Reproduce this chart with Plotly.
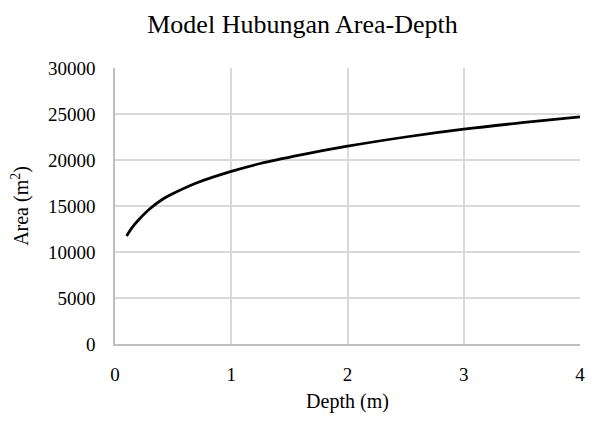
import plotly.graph_objects as go

depth = [0.1, 0.15, 0.2, 0.3, 0.4, 0.5, 0.7, 1.0, 1.25, 1.6, 2.0, 2.5, 3.0, 3.5, 4.0]
area = [11750, 12700, 13450, 14700, 15650, 16350, 17500, 18760, 19620, 20560, 21500, 22500, 23350, 24050, 24680]

x_ticks = [0, 1, 2, 3, 4]
y_ticks = [0, 5000, 10000, 15000, 20000, 25000, 30000]

FONT = "Liberation Serif, Times New Roman, serif"

fig = go.Figure()
fig.add_trace(go.Scatter(x=depth, y=area, mode="lines",
                         line=dict(color="black", width=2.75, shape="spline", smoothing=1.0),
                         showlegend=False))

fig.update_layout(
    width=589, height=413,
    paper_bgcolor="white", plot_bgcolor="white",
    margin=dict(l=106, r=17, t=60, b=72),
    font=dict(family=FONT, size=19, color="black"),
    title=dict(text="Model Hubungan Area-Depth", x=0.5, xanchor="center",
               y=0.962, yanchor="middle",
               font=dict(family=FONT, size=26, color="black")),
)
fig.update_xaxes(range=[0, 4], tickvals=x_ticks, ticktext=[str(v) for v in x_ticks],
                 showgrid=True, gridcolor="#d9d9d9", gridwidth=1.5,
                 showline=True, linecolor="#bfbfbf", linewidth=1.5, zeroline=False,
                 ticks="", ticklabelstandoff=12,
                 title=dict(text="Depth (m)", font=dict(size=20), standoff=10))
fig.update_yaxes(range=[0, 30000], tickvals=y_ticks, ticktext=[str(v) for v in y_ticks],
                 showgrid=True, gridcolor="#d9d9d9", gridwidth=1.5,
                 showline=True, linecolor="#bfbfbf", linewidth=1.5, zeroline=False,
                 ticks="", ticklabelstandoff=14,
                 title=dict(text="Area (m<sup>2</sup>)", font=dict(size=20), standoff=14))

fig.write_html("out.html")
